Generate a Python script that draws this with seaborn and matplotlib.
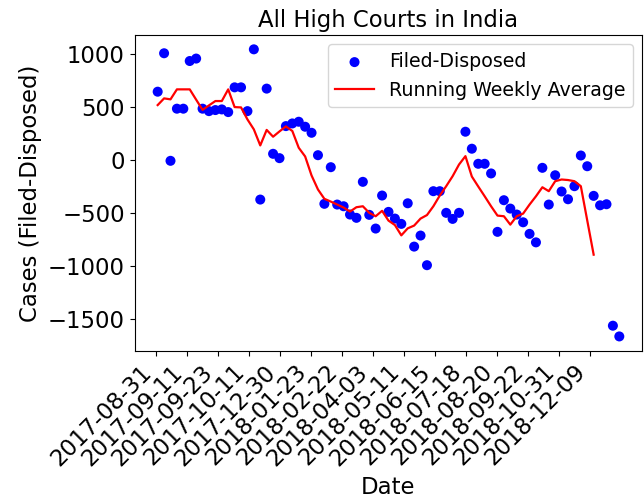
import numpy as np
import pandas as pd
import matplotlib
matplotlib.use("Agg")
import matplotlib.pyplot as plt
import seaborn as sns

# Filed minus disposed, one value per observation (index order)
diff_values = [645, 1007, -6, 485, 485, 934, 957, 485, 462, 472,
               478, 453, 686, 686, 462, 1044, -371, 674, 60, 19,
               321, 346, 362, 315, 258, 47, -411, -66, -418, -434,
               -512, -543, -204, -515, -644, -333, -487, -550, -600, -406,
               -814, -710, -989, -292, -292, -496, -553, -496, 268, 108,
               -34, -34, -125, -675, -377, -456, -512, -585, -694, -774,
               -72, -418, -142, -295, -368, -245, 44, -57, -336, -425,
               -415, -1559, -1660]

# Running weekly average
running_avg = [519, 582, 573, 667, 667, 667, 570, 474, 516, 557,
               557, 667, 500, 497, 384, 290, 139, 285, 221, 271,
               318, 275, 117, 35, -144, -276, -364, -390, -418, -446,
               -484, -443, -434, -496, -528, -477, -569, -611, -708, -642,
               -616, -550, -517, -434, -333, -245, -151, -41, 38, -154,
               -248, -340, -434, -522, -528, -607, -528, -503, -418, -340,
               -255, -292, -198, -182, -187, -198, -245, -568, -890]

tick_labels = ["2017-08-31", "2017-09-11", "2017-09-23", "2017-10-11", "2017-12-30",
               "2018-01-23", "2018-02-22", "2018-04-03", "2018-05-11", "2018-06-15",
               "2018-07-18", "2018-08-20", "2018-09-22", "2018-10-31", "2018-12-09"]

df_pts = pd.DataFrame({"idx": np.arange(len(diff_values)), "val": diff_values})
df_avg = pd.DataFrame({"idx": np.arange(len(running_avg)), "val": running_avg})

FS = 16.4

fig = plt.figure(figsize=(6.44, 5.04), dpi=100)
ax = fig.add_axes([0.209, 0.304, 0.7885, 0.6266])

sns.scatterplot(data=df_pts, x="idx", y="val", color="blue", s=52,
                edgecolor="none", linewidth=0, label="Filed-Disposed", ax=ax, zorder=2)
sns.lineplot(data=df_avg, x="idx", y="val", color="red", linewidth=1.6,
             label="Running Weekly Average", ax=ax, zorder=3)

ax.margins(x=0.05, y=0.05)
tick_pos = np.linspace(-0.3, 67.4, len(tick_labels))
ax.set_xticks(tick_pos)
ax.set_xticklabels(tick_labels, rotation=45, ha="right", fontsize=FS)
ax.set_yticks([1000, 500, 0, -500, -1000, -1500])
ax.tick_params(axis="y", labelsize=FS)
ax.set_xlabel("Date", fontsize=FS)
ax.set_ylabel("Cases (Filed-Disposed)", fontsize=FS)
ax.set_title("All High Courts in India", fontsize=FS)
ax.legend(loc="upper right", fontsize=13.7)

fig.savefig("out.png", dpi=100)
